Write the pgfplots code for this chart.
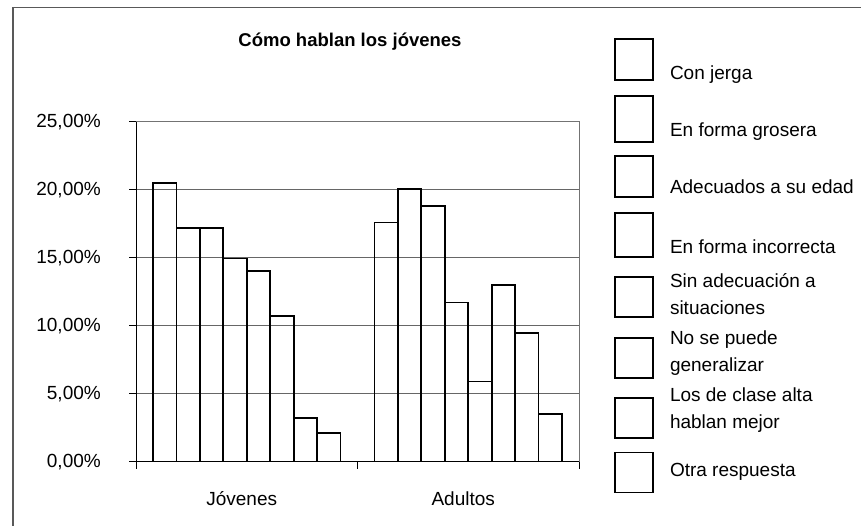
\documentclass[border=0pt]{standalone}
\usepackage{pgfplots}
\pgfplotsset{compat=1.18}
\usepackage{fontspec}
\setmainfont{Liberation Sans}
\newcommand{\lf}{\fontsize{19}{23}\selectfont}
\newcommand{\tl}[2]{\vbox{\baselineskip=27pt\hbox{#1}\hbox{#2}}}
\pgfplotsset{
  bx/.style n args={4}{draw=black, fill=none, line width=1.6pt,
    legend image code/.code={\draw[black,fill=none,line width=1.6pt] (0pt,#1) rectangle (38pt,#2);
      \path[draw=none,fill=none] (-4pt,-#3) rectangle (55pt,#4);}},
}
\begin{document}
\begin{tikzpicture}[x=1pt,y=1pt]
\draw[overlay, black!65, line width=1.2pt] (13,518.7) rectangle (900,-30);
\begin{axis}[
  at={(136pt,64.3pt)}, anchor=south west,
  width=443pt, height=340pt, scale only axis,
  xmin=-0.5, xmax=1.5, ymin=0, ymax=25,
  ybar=0pt, bar width=0.106,
  axis line style={black!55, line width=0.8pt},
  ymajorgrids, grid style={black!60, line width=0.8pt},
  xtick={-0.5,0.5,1.5}, xticklabels={},
  extra x ticks={0,1}, extra x tick labels={Jóvenes,Adultos},
  extra x tick style={major tick length=0pt, grid=none},
  ytick={0,5,10,15,20,25},
  yticklabel={\pgfmathprintnumber[fixed,fixed zerofill,precision=2,use comma]{\tick}\%},
  tick align=outside, tick pos=left,
  major tick length=7pt,
  tick style={black, line width=0.8pt},
  /pgf/number format/assume math mode=true,
  tick label style={font=\lf},
  yticklabel style={anchor=east, inner sep=0pt, xshift=-28pt},
  xticklabel style={anchor=center, inner sep=0pt, yshift=-37pt, xshift=-5pt},
  title={Cómo hablan los jóvenes},
  title style={font=\bfseries\fontsize{18.5}{22}\selectfont, at={(0.4830,1.2168)}, anchor=center, inner sep=0pt},
  legend style={at={(1.07223,1.24618)}, anchor=north west, draw=none, fill=none,
    inner sep=0pt, outer sep=0pt, row sep=0pt, column sep=0pt, font=\lf,
    nodes={inner sep=0pt, outer sep=0pt, text depth={}}, cells={anchor=base west}},
]
\addplot[bx={0pt}{41pt}{14.7pt}{42pt}] coordinates {(0,20.5) (1,17.6)};
\addlegendentry{Con jerga}
\addplot[bx={-5.3pt}{40.7pt}{15.3pt}{42pt}] coordinates {(0,17.2) (1,20.05)};
\addlegendentry{En forma grosera}
\addplot[bx={-3pt}{38pt}{17.3pt}{42pt}] coordinates {(0,17.2) (1,18.8)};
\addlegendentry{Adecuados a su edad}
\addplot[bx={-3.7pt}{40pt}{19.7pt}{42pt}] coordinates {(0,14.95) (1,11.7)};
\addlegendentry{En forma incorrecta}
\addplot[bx={-2pt}{38pt}{14.7pt}{42pt}] coordinates {(0,14.0) (1,5.9)};
\addlegendentry{\tl{Sin adecuación a}{situaciones}}
\addplot[bx={-6.3pt}{33.7pt}{14.6pt}{42pt}] coordinates {(0,10.7) (1,13.0)};
\addlegendentry{\tl{No se puede}{generalizar}}
\addplot[bx={-9.7pt}{30.3pt}{18.4pt}{42pt}] coordinates {(0,3.2) (1,9.45)};
\addlegendentry{\tl{Los de clase alta}{hablan mejor}}
\addplot[bx={-16pt}{24pt}{18pt}{30pt}] coordinates {(0,2.1) (1,3.5)};
\addlegendentry{Otra respuesta}
\draw[black, line width=0.9pt] (rel axis cs:0,1) -- (rel axis cs:0,0) -- (rel axis cs:1,0);
\end{axis}
\pgfresetboundingbox
\useasboundingbox (0,0) rectangle (861,526);
\end{tikzpicture}
\end{document}
